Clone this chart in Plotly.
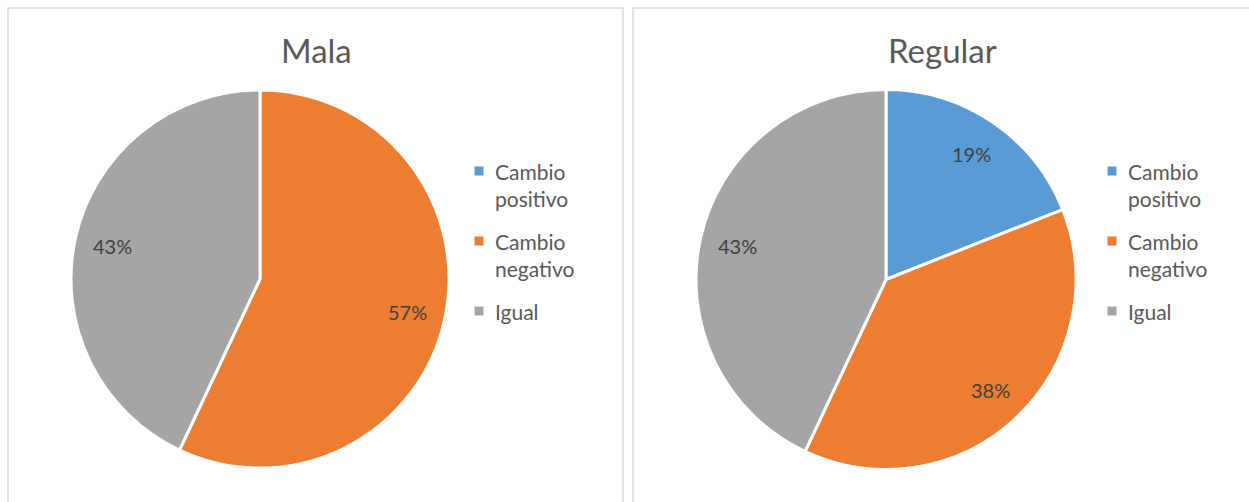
import math
import plotly.graph_objects as go

# Data
categories = ["Cambio positivo", "Cambio negativo", "Igual"]
legend_labels = ["Cambio<br>positivo", "Cambio<br>negativo", "Igual"]
mala_pct = [0, 57, 43]
regular_pct = [19, 38, 43]
titles = ["Mala", "Regular"]

colors = ["#5B9BD5", "#ED7D31", "#A5A5A5"]

W, H = 1249, 502
FONT = "Lato"

# Pie geometry in pixels: (center x, center y from top, radius)
pies = [
    dict(values=mala_pct, title=titles[0], cx=260, cy=279, r=189,
         box=(8, 623), title_x=316, legend_x=479),
    dict(values=regular_pct, title=titles[1], cx=886, cy=279.5, r=190,
         box=(633, 1252), title_x=942, legend_x=1112),
]

fig = go.Figure()
annotations = []
shapes = []

for p in pies:
    cx, cy, r = p["cx"], p["cy"], p["r"]
    fig.add_trace(go.Pie(
        labels=categories,
        values=p["values"],
        sort=False,
        direction="clockwise",
        rotation=0,
        marker=dict(colors=colors, line=dict(color="white", width=3)),
        textinfo="none",
        hoverinfo="label+percent",
        showlegend=False,
        domain=dict(x=[(cx - r) / W, (cx + r) / W],
                    y=[1 - (cy + r) / H, 1 - (cy - r) / H]),
    ))

    # Percentage labels placed at 80% of the radius along each slice's mid-angle
    total = sum(p["values"])
    start = 0.0
    for v in p["values"]:
        frac = v / total
        mid = (start + frac / 2) * 2 * math.pi
        start += frac
        if v == 0:
            continue
        lx = cx + 0.8 * r * math.sin(mid)
        ly = cy - 0.8 * r * math.cos(mid)
        annotations.append(dict(
            x=lx / W, y=1 - ly / H, xref="paper", yref="paper",
            text=f"{round(v)}%", showarrow=False,
            font=dict(family=FONT, size=20, color="#404040"),
            xanchor="center", yanchor="middle",
        ))

    # Chart title
    annotations.append(dict(
        x=p["title_x"] / W, y=1 - 50 / H, xref="paper", yref="paper",
        text=p["title"], showarrow=False,
        font=dict(family=FONT, size=33, color="#595959"),
        xanchor="center", yanchor="middle",
    ))

    # Chart area border
    x0, x1 = p["box"]
    shapes.append(dict(
        type="rect", xref="paper", yref="paper",
        x0=x0 / W, x1=x1 / W, y0=1 - 520 / H, y1=1 - 8 / H,
        line=dict(color="#D9D9D9", width=1.5), fillcolor="rgba(0,0,0,0)",
    ))

    # Legend: square swatch + label per category
    lx = p["legend_x"]
    for i, (lab, col) in enumerate(zip(legend_labels, colors)):
        ty = 171 + i * 70
        shapes.append(dict(
            type="rect", xref="paper", yref="paper",
            x0=(lx - 4.5) / W, x1=(lx + 4.5) / W,
            y0=1 - (ty + 4.5) / H, y1=1 - (ty - 4.5) / H,
            line=dict(width=0), fillcolor=col,
        ))
        annotations.append(dict(
            x=(lx + 14) / W, y=1 - (ty - 14) / H, xref="paper", yref="paper",
            text=lab, showarrow=False, align="left",
            font=dict(family=FONT, size=21, color="#595959"),
            xanchor="left", yanchor="top",
        ))

fig.update_layout(
    width=W, height=H,
    margin=dict(l=0, r=0, t=0, b=0),
    paper_bgcolor="white",
    plot_bgcolor="white",
    annotations=annotations,
    shapes=shapes,
)

fig.write_html("out.html")
